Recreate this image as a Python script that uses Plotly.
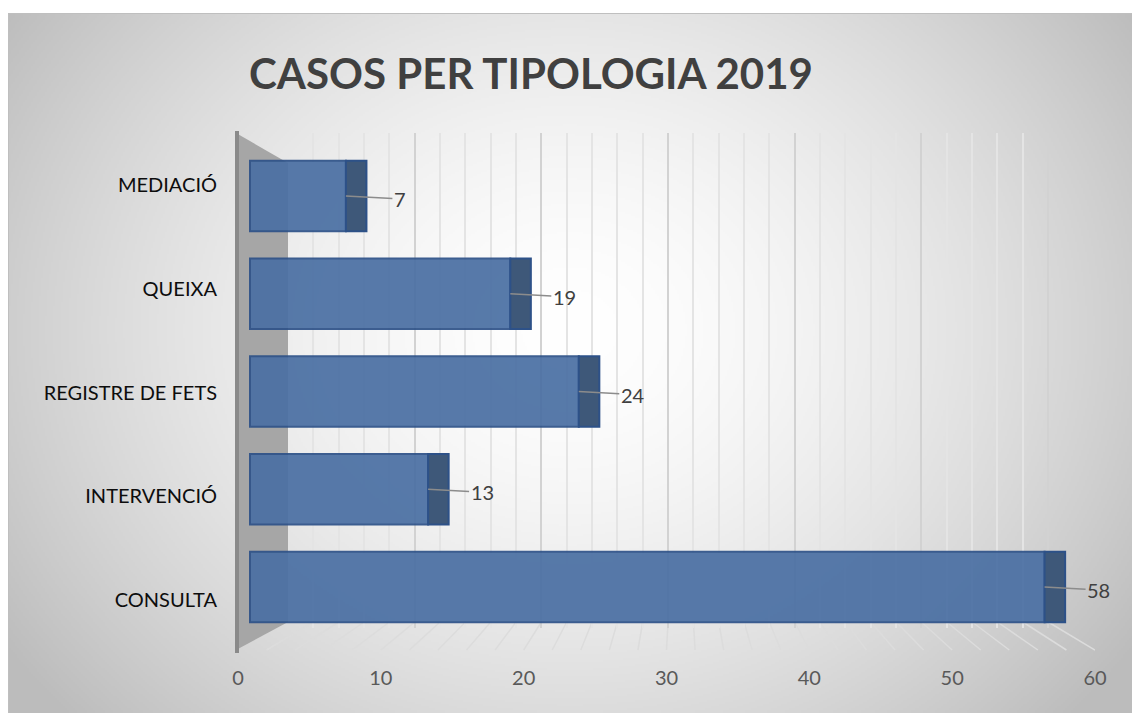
import base64, struct, zlib
import numpy as np
import plotly.graph_objects as go

# ---------------- data ----------------
categories = ["CONSULTA", "INTERVENCIÓ", "REGISTRE DE FETS", "QUEIXA", "MEDIACIÓ"]
values = [58, 13, 24, 19, 7]
tick_values = [0, 10, 20, 30, 40, 50, 60]
title_text = "CASOS PER TIPOLOGIA 2019"

# ---------------- style constants ----------------
W, H = 1140, 713
OFF = 8  # page offset of the figure (body margin)
# plot area in page pixels
PL, PR, PT, PB = 238, 1095, 133, 652
ML, MR, MT, MB = PL - OFF, W - (PR - OFF), PT - OFF, H - (PB - OFF)
FONT = "Lato"
FRONT = "#4a6fa3"
EDGE = "#2d5188"
SIDE = "#3e5879"
DEPTH = 1.5  # depth of 3D side face, in bar-axis units


def make_png(arr):
    h, w = arr.shape
    raw = b"".join(b"\x00" + arr[r].tobytes() for r in range(h))

    def chunk(t, data):
        c = struct.pack(">I", len(data)) + t + data
        return c + struct.pack(">I", zlib.crc32(t + data) & 0xFFFFFFFF)

    return (b"\x89PNG\r\n\x1a\n"
            + chunk(b"IHDR", struct.pack(">IIBBBBB", w, h, 8, 0, 0, 0, 0))
            + chunk(b"IDAT", zlib.compress(raw, 9))
            + chunk(b"IEND", b""))


# radial background gradient of the chart area (page coords)
iw, ih = 566, 350
xs = np.linspace(8, W, iw)
ys = np.linspace(13, H, ih)
X, Y = np.meshgrid(xs, ys)
d = np.sqrt(((X - 570) / 570) ** 2 + ((Y - 330) / 480) ** 2)
g = np.clip(255 - 50 * d ** 1.6, 188, 255).astype(np.uint8)
bg_src = "data:image/png;base64," + base64.b64encode(make_png(g)).decode()

pw = PR - PL
ph = PB - PT


def px_x(px):
    return (px - PL) / pw


def px_y(py):
    return (PB - py) / ph


fig = go.Figure()

# invisible carrier traces so that every axis is drawn
fig.add_trace(go.Scatter(x=[10] * len(categories), y=categories, mode="markers",
                         marker=dict(opacity=0), hoverinfo="skip", showlegend=False,
                         xaxis="x", yaxis="y"))
fig.add_trace(go.Scatter(x=values, y=categories, mode="markers",
                         marker=dict(opacity=0), hoverinfo="skip", showlegend=False,
                         xaxis="x2", yaxis="y"))

# bars (front face) and their 3D end face
fig.add_trace(go.Bar(x=values, y=categories, orientation="h", width=0.72,
                     marker=dict(color=FRONT, opacity=0.92, line=dict(color=EDGE, width=2)),
                     showlegend=False, xaxis="x3", yaxis="y3"))
fig.add_trace(go.Bar(x=[DEPTH] * len(values), base=values, y=categories, orientation="h",
                     width=0.72,
                     marker=dict(color=SIDE, line=dict(color=EDGE, width=2)),
                     showlegend=False, xaxis="x3", yaxis="y3"))

annotations = []
for c, v in zip(categories, values):
    annotations.append(dict(x=v, y=c, xref="x3", yref="y3", text=str(v),
                            showarrow=True, arrowhead=0, arrowwidth=1.5,
                            arrowcolor="#8c8c8c", ax=54, ay=3, standoff=0,
                            font=dict(family=FONT, size=20, color="#404040")))

shapes = []
# left side wall
x0, x1 = px_x(236), px_x(288)
shapes.append(dict(type="path", xref="paper", yref="paper",
                   path=f"M {x0},{px_y(133)} L {x1},{px_y(163)} L {x1},{px_y(622)} L {x0},{px_y(650)} Z",
                   fillcolor="#a6a6a6", line=dict(width=0), layer="below"))
shapes.append(dict(type="line", xref="paper", yref="paper",
                   x0=px_x(237), x1=px_x(237), y0=px_y(131), y1=px_y(653),
                   line=dict(color="#8a8a8a", width=4), layer="below"))
# floor lines
for v in range(2, 61, 2):
    shapes.append(dict(type="line", xref="x2", yref="paper",
                       x0=v, x1=3.5 + 0.887 * v, y0=px_y(650), y1=px_y(622),
                       line=dict(color="#dcdcdc", width=1.5), layer="below"))
# chart border
shapes.append(dict(type="rect", xref="paper", yref="paper",
                   x0=px_x(8.5), x1=px_x(W + 20), y0=px_y(H + 20), y1=px_y(13.5),
                   line=dict(color="#bfbfbf", width=1), fillcolor="rgba(0,0,0,0)"))

fig.update_layout(
    width=W, height=H,
    margin=dict(l=ML, r=MR, t=MT, b=MB),
    paper_bgcolor="white", plot_bgcolor="rgba(0,0,0,0)",
    showlegend=False, barmode="overlay",
    title=dict(text=f"<b>{title_text}</b>", x=(531 - OFF) / W, xref="container",
               xanchor="center", y=1 - (74 - OFF) / H, yref="container", yanchor="middle",
               font=dict(family=FONT, size=42, color="#404040")),
    images=[dict(source=bg_src, xref="paper", yref="paper",
                 x=px_x(8), y=px_y(13), sizex=(W - 8) / pw, sizey=(H - 13) / ph,
                 xanchor="left", yanchor="top", sizing="stretch", layer="below")],
    shapes=shapes,
    annotations=annotations,
    # back-wall grid axis
    xaxis=dict(range=[-3.95, 63.7], tickmode="array", tickvals=[10, 20, 30, 40, 50, 60],
               showgrid=True, gridcolor="#d2d2d2", gridwidth=1.5,
               minor=dict(tickmode="array", tickvals=[v for v in range(2, 61, 2) if v % 10],
                          showgrid=True, gridcolor="#e4e4e4", gridwidth=1.5),
               showticklabels=False, ticks="", zeroline=False, showline=False),
    yaxis=dict(domain=[px_y(628), 1.0], type="category", categoryorder="array",
               categoryarray=categories,
               range=[(600 - 628) / 103.75, (600 - 133) / 103.75],
               showgrid=False, zeroline=False, showline=False, ticks="",
               ticklabelstandoff=20,
               tickfont=dict(family=FONT, size=20, color="#0d0d0d")),
    # value tick axis
    xaxis2=dict(overlaying="x", anchor="free", position=0, range=[0, 60],
                tickmode="array", tickvals=tick_values, showgrid=False,
                zeroline=False, showline=False, ticks="", ticklabelstandoff=12,
                tickfont=dict(family=FONT, size=20, color="#595959")),
    # bar axes
    xaxis3=dict(overlaying="x", range=[-0.876, 61.68], visible=False, showgrid=False),
    yaxis3=dict(overlaying="y", type="category", categoryorder="array",
                categoryarray=categories,
                range=[(587 - 628) / 97.75, (587 - 133) / 97.75],
                visible=False, showgrid=False),
)

fig.write_html("out.html")
